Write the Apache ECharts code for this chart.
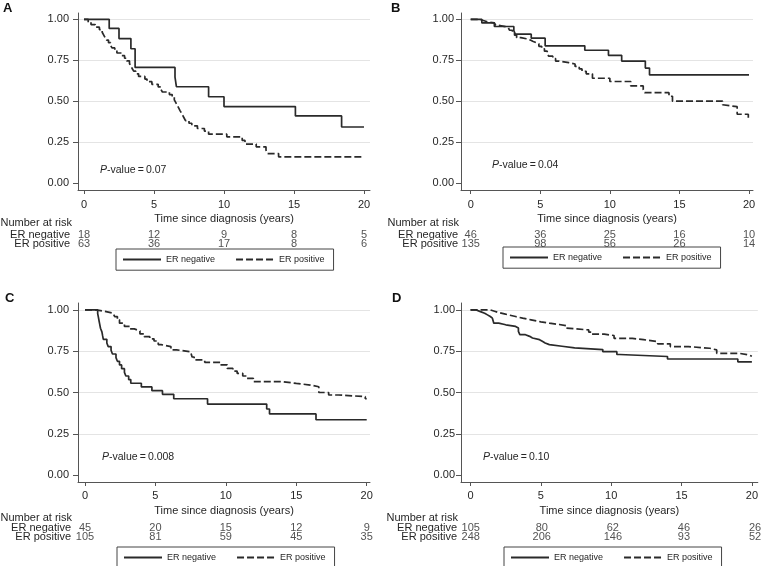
<!DOCTYPE html>
<html><head><meta charset="utf-8">
<script src="https://cdn.jsdelivr.net/npm/echarts@6/dist/echarts.min.js"></script>
<style>html,body{margin:0;padding:0;background:#fff}#c{width:761px;height:566px}</style>
</head><body><div id="c"></div>
<script>
// ---------- data ----------
const panelLetters = ['A', 'B', 'C', 'D'];
const seriesNames = ['ER negative', 'ER positive'];
const xTicks = [0, 5, 10, 15, 20];
const yTicks = [0, 0.25, 0.5, 0.75, 1];
const riskTimes = [0, 5, 10, 15, 20];
const xTitle = 'Time since diagnosis (years)';
const riskTitle = 'Number at risk';
const pValues = ['0.07', '0.04', '0.008', '0.10'];

// Kaplan-Meier steps: [time (years), survival from that time on]
const A_neg = [[0,1],[1.8,0.944],[2.5,0.882],[3.35,0.82],[3.65,0.706],[6.5,0.647],[6.6,0.588],[8.9,0.527],[10.0,0.467],[15.1,0.410],[18.4,0.342],[20,0.342]];
const A_pos = [[0,1],[0.3,0.984],[0.5,0.968],[0.8,0.952],[1.1,0.937],[1.3,0.921],[1.4,0.905],[1.5,0.889],[1.6,0.873],[1.75,0.857],[1.9,0.841],[2.0,0.825],[2.2,0.810],[2.35,0.794],[2.7,0.778],[2.9,0.762],[3.05,0.746],[3.25,0.730],[3.35,0.714],[3.45,0.698],[3.55,0.683],[3.7,0.667],[3.9,0.651],[4.35,0.635],[4.5,0.619],[4.85,0.603],[5.3,0.587],[5.5,0.571],[5.6,0.556],[6.1,0.540],[6.3,0.524],[6.45,0.508],[6.55,0.492],[6.65,0.476],[6.75,0.460],[6.85,0.444],[6.95,0.429],[7.05,0.413],[7.15,0.397],[7.25,0.381],[7.5,0.365],[7.7,0.349],[8.1,0.333],[8.6,0.317],[8.9,0.298],[10.2,0.282],[11.3,0.260],[11.5,0.238],[12.3,0.221],[13.0,0.200],[13.1,0.180],[13.9,0.160],[20,0.160]];
const B_neg = [[0,1],[0.8,0.978],[1.7,0.956],[3.1,0.932],[3.2,0.909],[4.35,0.885],[5.35,0.838],[8.2,0.811],[9.9,0.78],[10.85,0.745],[12.55,0.702],[12.85,0.66],[20,0.66]];
const B_pos = [[0,1],[0.6,0.993],[0.9,0.985],[1.2,0.978],[1.7,0.97],[1.8,0.963],[2.0,0.955],[2.5,0.948],[2.7,0.94],[2.8,0.933],[3.0,0.918],[3.15,0.903],[3.3,0.888],[3.6,0.881],[4.0,0.873],[4.3,0.866],[4.45,0.858],[4.7,0.85],[4.9,0.835],[5.1,0.82],[5.3,0.805],[5.5,0.79],[5.6,0.775],[5.9,0.76],[6.1,0.745],[6.3,0.735],[7.05,0.727],[7.5,0.712],[7.8,0.697],[8.0,0.682],[8.3,0.667],[8.75,0.64],[10.0,0.62],[11.5,0.593],[12.4,0.57],[12.5,0.552],[14.25,0.53],[14.5,0.50],[18.1,0.478],[18.2,0.466],[19.15,0.42],[19.95,0.39],[20,0.39]];
const C_neg = [[0,1],[0.9,0.978],[0.95,0.956],[1.0,0.933],[1.05,0.911],[1.1,0.889],[1.2,0.867],[1.25,0.844],[1.3,0.822],[1.55,0.8],[1.65,0.778],[1.85,0.756],[1.95,0.733],[2.2,0.711],[2.3,0.689],[2.45,0.667],[2.6,0.644],[2.8,0.622],[2.9,0.6],[3.1,0.578],[3.25,0.556],[4.0,0.534],[4.75,0.511],[5.5,0.489],[6.3,0.462],[8.7,0.43],[12.9,0.40],[13.1,0.37],[16.4,0.335],[20,0.335]];
const C_pos = [[0,1],[0.8,0.99],[1.5,0.98],[2.0,0.97],[2.1,0.96],[2.3,0.94],[2.45,0.92],[2.8,0.90],[3.2,0.885],[3.5,0.873],[3.9,0.855],[4.2,0.838],[4.6,0.825],[4.9,0.812],[5.2,0.79],[5.4,0.778],[6.1,0.758],[6.5,0.747],[7.5,0.737],[7.6,0.715],[7.75,0.697],[8.5,0.683],[9.6,0.667],[10.1,0.646],[10.5,0.63],[10.8,0.616],[11.2,0.6],[11.5,0.586],[11.95,0.566],[14.0,0.555],[15.0,0.545],[16.0,0.535],[16.6,0.50],[17.3,0.485],[18.0,0.475],[19.9,0.462],[20,0.462]];
const D_neg = [[0,1],[0.4,0.99],[0.7,0.98],[1.0,0.97],[1.2,0.96],[1.4,0.95],[1.55,0.94],[1.65,0.92],[2.0,0.91],[2.5,0.9],[3.2,0.89],[3.4,0.87],[3.5,0.85],[3.9,0.84],[4.2,0.83],[4.4,0.82],[4.9,0.81],[5.1,0.80],[5.3,0.79],[5.6,0.78],[6.5,0.77],[7.4,0.76],[9.4,0.747],[10.4,0.73],[10.6,0.718],[14.0,0.703],[19.0,0.686],[20,0.686]];
const D_pos = [[0,1],[1.4,0.992],[1.7,0.984],[2.0,0.976],[2.4,0.968],[2.8,0.96],[3.2,0.95],[3.7,0.94],[4.3,0.928],[5.0,0.92],[5.6,0.912],[6.3,0.905],[6.8,0.89],[6.9,0.879],[8.4,0.866],[8.6,0.853],[9.5,0.845],[10.2,0.828],[11.5,0.82],[12.3,0.808],[13.3,0.795],[14.2,0.778],[15.5,0.768],[17.0,0.758],[17.5,0.737],[19.1,0.727],[19.8,0.72],[20,0.72]];

const A_riskNeg = [18, 12, 9, 8, 5];
const A_riskPos = [63, 36, 17, 8, 6];
const B_riskNeg = [46, 36, 25, 16, 10];
const B_riskPos = [135, 98, 56, 26, 14];
const C_riskNeg = [45, 20, 15, 12, 9];
const C_riskPos = [105, 81, 59, 45, 35];
const D_riskNeg = [105, 80, 62, 46, 26];
const D_riskPos = [248, 206, 146, 93, 52];

const curves = [[A_neg, A_pos], [B_neg, B_pos], [C_neg, C_pos], [D_neg, D_pos]];
const risks = [[A_riskNeg, A_riskPos], [B_riskNeg, B_riskPos], [C_riskNeg, C_riskPos], [D_riskNeg, D_riskPos]];

// ---------- layout / style ----------
const FONT = "'Liberation Sans', Arial, sans-serif";
const TXT = '#262626';
const AX = '#555';
const LINE = '#2a2a2a';
const layout = [
  {left:78, width:292, top:13, height:177, xMin:-0.4286, xMax:20.4286, yMin:-0.0428, yMax:1.0385, yLabMargin:9, xLabMargin:9, nameGap:23, riskTop:230, riskLabMargin:8, nar:[72,223], legend:[116,249], letter:[3,2], pv:[100,170]},
  {left:461, width:292, top:13, height:177, xMin:-0.697, xMax:20.287, yMin:-0.0428, yMax:1.0385, yLabMargin:7, xLabMargin:9, nameGap:23, riskTop:230, riskLabMargin:3, nar:[459,223], legend:[503,247], letter:[391,2], pv:[492,165]},
  {left:78, width:292, top:303, height:179, xMin:-0.497, xMax:20.234, yMin:-0.042, yMax:1.042, yLabMargin:9, xLabMargin:8, nameGap:23, riskTop:523, riskLabMargin:7, nar:[72,517.5], legend:[117,547], letter:[5,292], pv:[102,457]},
  {left:461, width:300, top:303, height:179, xMin:-0.682, xMax:20.422, yMin:-0.042, yMax:1.042, yLabMargin:6, xLabMargin:8, nameGap:23, riskTop:523, riskLabMargin:4, nar:[458,517.5], legend:[504,547], letter:[392,292], pv:[483,457]}
];

const grid = [], xAxis = [], yAxis = [], series = [], legend = [], title = [], graphic = [];
layout.forEach((L, i) => {
  const g = 2 * i;
  grid.push({left: L.left, top: L.top, width: L.width, height: L.height, containLabel: false});
  grid.push({left: L.left, top: L.riskTop, width: L.width, height: 18, containLabel: false});
  xAxis.push({
    type: 'value', gridIndex: g, min: L.xMin, max: L.xMax,
    axisLine: {show: true, onZero: false, lineStyle: {color: AX, width: 1}},
    axisTick: {show: true, customValues: xTicks, length: 4, lineStyle: {color: AX}},
    axisLabel: {customValues: xTicks, margin: L.xLabMargin, color: TXT, fontSize: 11, fontFamily: FONT, formatter: v => String(v)},
    splitLine: {show: false},
    name: xTitle, nameLocation: 'middle', nameGap: L.nameGap,
    nameTextStyle: {color: TXT, fontSize: 11, fontFamily: FONT}
  });
  xAxis.push({type: 'value', gridIndex: g + 1, min: L.xMin, max: L.xMax, show: false});
  yAxis.push({
    type: 'value', gridIndex: g, min: L.yMin, max: L.yMax,
    axisLine: {show: true, onZero: false, lineStyle: {color: AX, width: 1}},
    axisTick: {show: true, customValues: yTicks, length: 5, lineStyle: {color: AX}},
    axisLabel: {customValues: yTicks, margin: L.yLabMargin, color: TXT, fontSize: 11, fontFamily: FONT, formatter: v => Number(v).toFixed(2)},
    splitLine: {show: true, showMinLine: false, showMaxLine: true, lineStyle: {color: '#e4e4e4', width: 1}}
  });
  yAxis.push({
    type: 'category', gridIndex: g + 1, data: seriesNames, inverse: true,
    axisLine: {show: false}, axisTick: {show: false}, splitLine: {show: false},
    axisLabel: {interval: 0, margin: L.riskLabMargin, color: TXT, fontSize: 11, fontFamily: FONT}
  });
  curves[i].forEach((data, k) => {
    series.push({
      type: 'line', name: seriesNames[k], xAxisIndex: g, yAxisIndex: g,
      data: data, step: 'end', symbol: 'none', silent: true,
      lineStyle: {color: LINE, width: 1.7, type: k === 0 ? 'solid' : [7, 3]},
      itemStyle: {color: LINE}
    });
  });
  risks[i].forEach((vals, k) => {
    series.push({
      type: 'scatter', name: 'risk' + i + k, xAxisIndex: g + 1, yAxisIndex: g + 1,
      data: riskTimes.map((t, j) => [t, seriesNames[k], vals[j]]),
      symbol: 'circle', symbolSize: 1, itemStyle: {color: 'rgba(0,0,0,0)'}, silent: true,
      label: {show: true, position: 'inside', color: TXT, fontSize: 11, fontFamily: FONT, formatter: p => String(p.value[2])},
      labelLayout: {hideOverlap: false}
    });
  });
  legend.push({
    data: seriesNames, left: L.legend[0], top: L.legend[1], orient: 'horizontal',
    itemWidth: 38, itemHeight: 14, itemGap: 20, selectedMode: false,
    itemStyle: {opacity: 0},
    padding: [5, 9, 5, 6], borderColor: '#444', borderWidth: 1, borderRadius: 0,
    textStyle: {color: TXT, fontSize: 9, fontFamily: FONT}
  });
  title.push({
    text: panelLetters[i], left: L.letter[0], top: L.letter[1], padding: 0,
    textStyle: {color: '#111', fontSize: 13, fontWeight: 'bold', fontFamily: FONT}
  });
  graphic.push({
    type: 'text', x: L.nar[0], y: L.nar[1], silent: true,
    style: {text: riskTitle, fill: TXT, font: "11px " + FONT, textAlign: 'right', textVerticalAlign: 'middle'}
  });
  graphic.push({
    type: 'text', x: L.pv[0], y: L.pv[1], silent: true,
    style: {
      text: '{i|P}-value\u2009=\u2009' + pValues[i], fill: TXT, font: "10.5px " + FONT, textVerticalAlign: 'middle',
      rich: {i: {fontStyle: 'italic', fontSize: 10.5, fontFamily: FONT, fill: TXT}}
    }
  });
});

const chart = echarts.init(document.getElementById('c'), null, {renderer: 'canvas'});
chart.setOption({
  animation: false, backgroundColor: '#fff',
  textStyle: {fontFamily: FONT},
  title, grid, xAxis, yAxis, series, legend, graphic
});
</script></body></html>
